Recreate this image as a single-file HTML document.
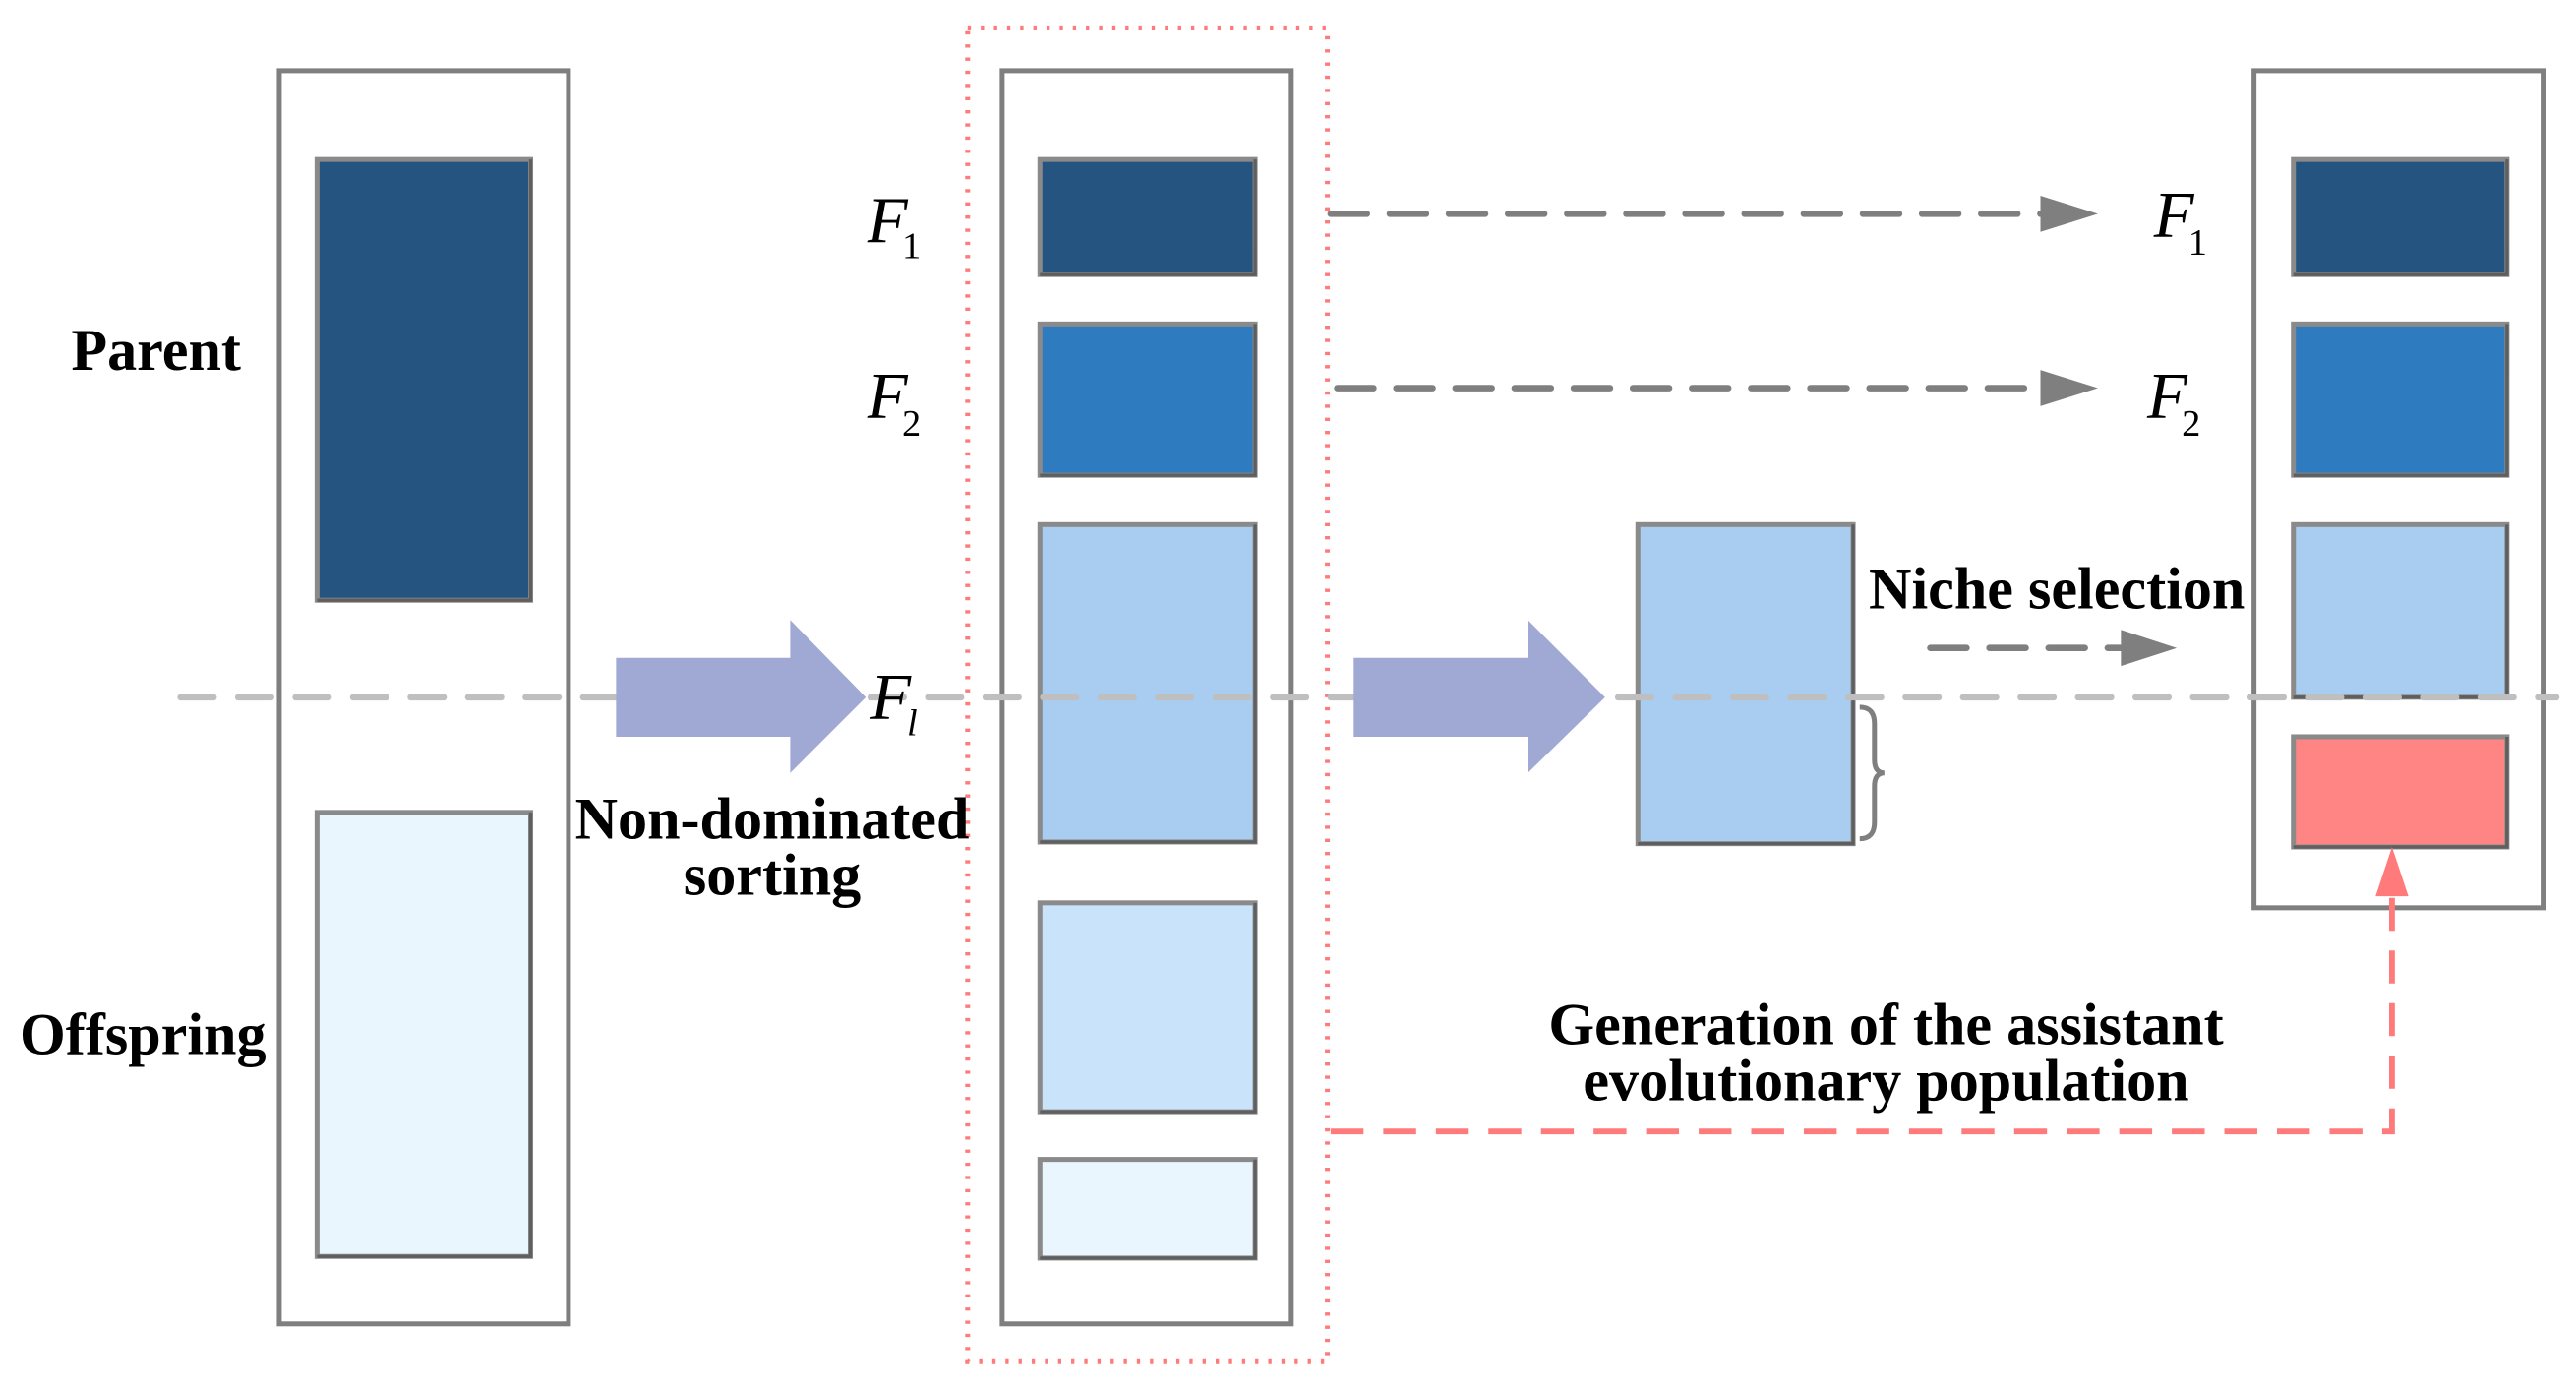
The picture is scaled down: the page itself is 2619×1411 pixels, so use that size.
<!DOCTYPE html>
<html><head><meta charset="utf-8"><style>
html,body{margin:0;padding:0;background:#fff;}
svg{display:block;}
text{font-family:"Liberation Serif",serif;fill:#000;}
.b{font-weight:bold;font-size:36px;}
.f{font-style:italic;font-size:40px;}
.s{font-size:23px;}
</style></head><body>
<svg width="2619" height="1411" viewBox="0 0 1568 844" preserveAspectRatio="none" xmlns="http://www.w3.org/2000/svg">
<rect x="170" y="43" width="176" height="762" fill="none" stroke="#7f7f7f" stroke-width="3"/>
<rect x="610" y="43" width="176" height="762" fill="none" stroke="#7f7f7f" stroke-width="3"/>
<rect x="1372" y="43" width="176" height="509" fill="none" stroke="#7f7f7f" stroke-width="3"/>
<rect x="589" y="17" width="219" height="811" fill="none" stroke="#ff7a7a" stroke-width="3" stroke-dasharray="2 6"/>

<g stroke="#8a8a8a" stroke-width="3">
<rect x="193" y="97" width="130" height="268" fill="#24547f"/>
<rect x="193" y="494" width="130" height="270" fill="#eaf6fd"/>
<rect x="633" y="97" width="131" height="70" fill="#24547f"/>
<rect x="633" y="197" width="131" height="92" fill="#2f7bbf"/>
<rect x="633" y="319" width="131" height="193" fill="#a9cdf0"/>
<rect x="633" y="549" width="131" height="127" fill="#c9e3fb"/>
<rect x="633" y="705" width="131" height="60" fill="#eaf6fd"/>
<rect x="997" y="319" width="131" height="194" fill="#a9cdf0"/>
<rect x="1396" y="97" width="130" height="70" fill="#24547f"/>
<rect x="1396" y="197" width="130" height="92" fill="#2f7bbf"/>
<rect x="1396" y="319" width="130" height="105" fill="#a9cdf0"/>
<rect x="1396" y="448" width="130" height="67" fill="#ff8585"/>
</g>
<g fill="none" stroke="#333" stroke-width="2" opacity="0.5">
<path d="M323 97 V365 H193"/><path d="M323 494 V764 H193"/>
<path d="M764 97 V167 H633"/><path d="M764 197 V289 H633"/><path d="M764 319 V512 H633"/>
<path d="M764 549 V676 H633"/><path d="M764 705 V765 H633"/><path d="M1128 319 V513 H997"/>
<path d="M1526 97 V167 H1396"/><path d="M1526 197 V289 H1396"/><path d="M1526 319 V424 H1396"/><path d="M1526 448 V515 H1396"/>
</g>

<line x1="110" y1="424" x2="1556" y2="424" stroke="#bfbfbf" stroke-width="4" stroke-dasharray="20 15" stroke-linecap="round"/>

<polygon points="375,400 481,400 481,377 527,424 481,470 481,448 375,448" fill="#a0a8d4"/>
<polygon points="824,400 930,400 930,377 977,424 930,470 930,448 824,448" fill="#a0a8d4"/>

<g stroke="#7f7f7f" stroke-width="4" stroke-dasharray="22 14" stroke-linecap="round" fill="none">
<line x1="810" y1="130" x2="1245" y2="130"/>
<line x1="814" y1="236" x2="1245" y2="236"/>
<line x1="1175" y1="394" x2="1292" y2="394"/>
</g>
<g fill="#7f7f7f">
<polygon points="1242,119 1277,130 1242,141"/>
<polygon points="1242,225 1277,236 1242,247"/>
<polygon points="1291,383 1325,394 1291,405"/>
</g>

<path d="M810 688 H1456 V545" fill="none" stroke="#ff7a7a" stroke-width="3.5" stroke-dasharray="20 12"/>
<polygon points="1446,545 1456,515 1466,545" fill="#ff7a7a"/>

<path d="M1132 430 Q1141 430 1141 440 V462 Q1141 470 1147 470 Q1141 470 1141 478 V500 Q1141 510 1132 510" fill="none" stroke="#7f7f7f" stroke-width="3"/>

<text class="b" x="95" y="225" text-anchor="middle">Parent</text>
<text class="b" x="87" y="641" text-anchor="middle">Offspring</text>
<text class="b" x="470" y="510" text-anchor="middle">Non-dominated</text>
<text class="b" x="470" y="544" text-anchor="middle">sorting</text>
<text class="b" x="1252" y="370" text-anchor="middle">Niche selection</text>
<text class="b" x="1148" y="635" text-anchor="middle">Generation of the assistant</text>
<text class="b" x="1148" y="669" text-anchor="middle">evolutionary population</text>

<text class="f" x="528" y="147">F</text><text class="s" x="549" y="157">1</text>
<text class="f" x="528" y="254">F</text><text class="s" x="549" y="265">2</text>
<text class="f" x="530" y="437">F</text><text class="s" x="552" y="447" font-style="italic">l</text>
<text class="f" x="1311" y="144">F</text><text class="s" x="1332" y="155">1</text>
<text class="f" x="1307" y="254">F</text><text class="s" x="1328" y="265">2</text>
</svg>
</body></html>
